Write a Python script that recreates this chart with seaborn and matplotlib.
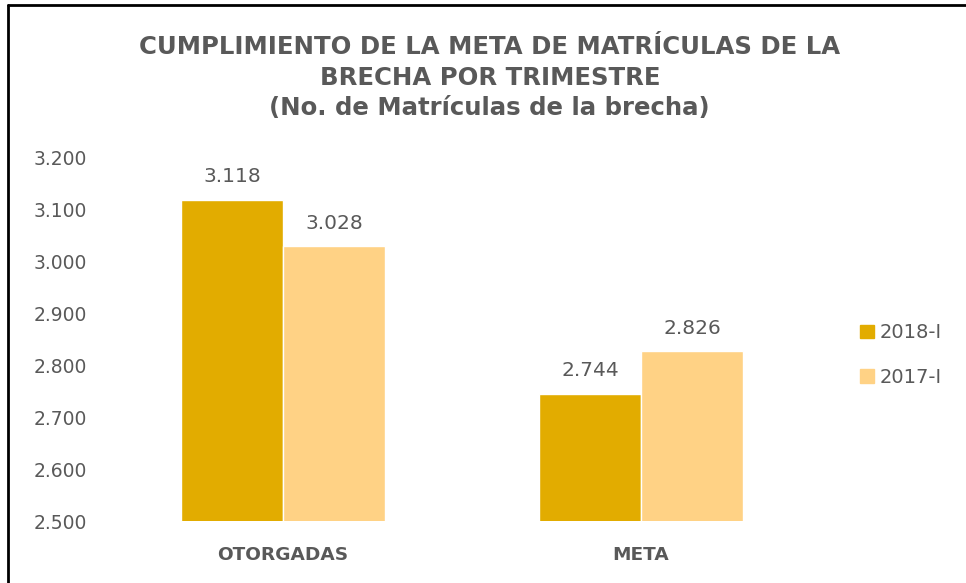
import pandas as pd
import seaborn as sns
import matplotlib.pyplot as plt
from matplotlib.lines import Line2D
from matplotlib.ticker import FuncFormatter

# datos
categorias = ["OTORGADAS", "META"]
periodos = ["2018-I", "2017-I"]
valores_2018 = [3118, 2744]
valores_2017 = [3028, 2826]

colores = ["#E2AC00", "#FFD285"]
gris = "#595959"

df = pd.DataFrame({
    "categoria": categorias * 2,
    "periodo": [periodos[0]] * 2 + [periodos[1]] * 2,
    "valor": valores_2018 + valores_2017,
})

sns.set_style("white")
plt.rcParams['font.family'] = ['DejaVu Sans']

fig = plt.figure(figsize=(9.66, 5.83), dpi=100)
ax = fig.add_axes([0.1077, 0.1063, 0.741, 0.6244])

sns.barplot(data=df, x="categoria", y="valor", hue="periodo",
            hue_order=periodos, palette=colores, width=0.57,
            saturation=1, ax=ax, legend=False)

ax.set_ylim(2500, 3200)
ax.set_xlim(-0.5, 1.5)
ax.set_yticks(range(2500, 3201, 100))
ax.yaxis.set_major_formatter(FuncFormatter(lambda v, p: f"{int(v):,}".replace(",", ".")))
ax.tick_params(axis="y", labelsize=13.5, labelcolor=gris, length=0, pad=12)
ax.tick_params(axis="x", labelsize=13.3, labelcolor=gris, length=0, pad=18)
for lbl in ax.get_xticklabels():
    lbl.set_fontweight("bold")
ax.set_xlabel("")
ax.set_ylabel("")
sns.despine(ax=ax, left=True, bottom=True)

# etiquetas de valores
for cont in ax.containers:
    ax.bar_label(cont, labels=[f"{int(v):,}".replace(",", ".") for v in cont.datavalues],
                 padding=10, fontsize=14.5, color=gris)

# leyenda
handles = [plt.Rectangle((0, 0), 1, 1, color=c) for c in colores]
ax.legend(handles, periodos, loc="center left", bbox_to_anchor=(1.032, 0.456),
          frameon=False, fontsize=14, labelcolor=gris, handlelength=0.7,
          handleheight=0.7, labelspacing=1.3, handletextpad=0.3)

# titulo
fig.text(0.507, 0.94, "CUMPLIMIENTO DE LA META DE MATRÍCULAS DE LA\nBRECHA POR TRIMESTRE\n(No. de Matrículas de la brecha)",
         ha="center", va="top", fontsize=17.6, fontweight="bold", color=gris,
         linespacing=1.35)

# borde
fig.add_artist(Line2D([0.0083, 0.0083], [0, 0.992], color="black", lw=2, transform=fig.transFigure))
fig.add_artist(Line2D([0.0083, 1], [0.992, 0.992], color="black", lw=2, transform=fig.transFigure))

fig.savefig("out.png", dpi=100)
